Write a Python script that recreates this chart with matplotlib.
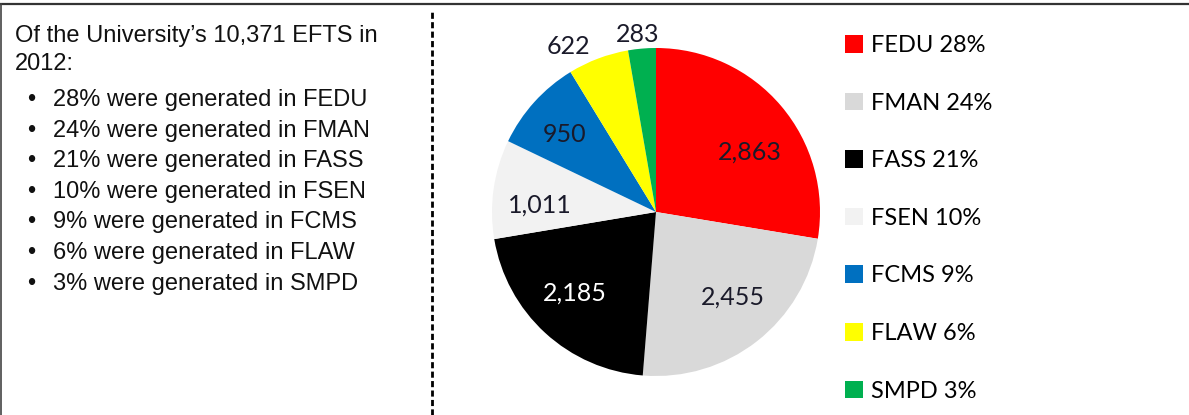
import matplotlib
matplotlib.use("Agg")
import matplotlib.pyplot as plt
from matplotlib.lines import Line2D
import numpy as np

W, H = 1189, 415
DPI = 100

faculties = ["FEDU", "FMAN", "FASS", "FSEN", "FCMS", "FLAW", "SMPD"]
efts = [2863, 2455, 2185, 1011, 950, 622, 283]
colors = ["#FF0000", "#D9D9D9", "#000000", "#F2F2F2", "#0070C0", "#FFFF00", "#00B050"]
label_colors = ["#1a1a2a", "#1a1a2a", "#FFFFFF", "#1a1a2a", "#1a1a2a", "#1a1a2a", "#1a1a2a"]
# label placement (Excel "best fit" look): radius fraction and angle nudge
label_dist = [0.68, 0.70, 0.70, 0.71, 0.73, 1.14, 1.09]
label_nudge = [-8, 4, -2.4, 4.5, 2, 7.4, 1]

intro = ["Of the University\u2019s 10,371 EFTS in", "2012:"]
bullets = ["28% were generated in FEDU", "24% were generated in FMAN",
           "21% were generated in FASS", "10% were generated in FSEN",
           "9% were generated in FCMS", "6% were generated in FLAW",
           "3% were generated in SMPD"]

fig = plt.figure(figsize=(W / DPI, H / DPI), dpi=DPI)

def px(x, y):
    return x / W, 1 - y / H

# frame: top rule, left rule, dashed divider
fig.add_artist(Line2D([0, 1], [1 - 4 / H, 1 - 4 / H], color="#333333", lw=1.6))
fig.add_artist(Line2D([1 / W, 1 / W], [0, 1 - 4 / H], color="#444444", lw=1.2))
fig.add_artist(Line2D([432 / W, 432 / W], [0, 1 - 10 / H], color="black", lw=2.0,
                      linestyle=(0, (2.2, 1.2))))

# left text block
txt = dict(family="Liberation Sans", fontsize=17, color="#111111", va="center")
for i, line in enumerate(intro):
    fig.text(*px(15, 36 + i * 28), line, **txt)
for i, line in enumerate(bullets):
    y = 100 + i * 30.6
    fig.text(*px(27, y), "\u2022", **txt)
    fig.text(*px(53, y), line, **txt)

# pie
cx, cy, r = 656, 212, 164
ax = fig.add_axes([(cx - r) / W, (H - cy - r) / H, 2 * r / W, 2 * r / H])
wedges, _ = ax.pie(efts, colors=colors, startangle=90, counterclock=False,
                   radius=1, wedgeprops=dict(linewidth=0))
ax.set_xlim(-1, 1)
ax.set_ylim(-1, 1)
ax.set_aspect("auto")
ax.axis("off")

for w, v, c, d, n in zip(wedges, efts, label_colors, label_dist, label_nudge):
    th = np.deg2rad((w.theta1 + w.theta2) / 2 + n)
    ax.text(d * np.cos(th), d * np.sin(th), f"{v:,}", ha="center", va="center",
            family="Lato", fontsize=18, color=c, clip_on=False)

total = sum(efts)
labels = [f"{f} {round(100 * v / total)}%" for f, v in zip(faculties, efts)]
fs = 17
fs_px = fs * DPI / 72
fig.legend(wedges, labels, loc="upper left", bbox_to_anchor=px(845, 35),
           frameon=False, prop=dict(family="Lato", size=fs),
           handlelength=18 / fs_px, handleheight=18 / fs_px,
           handletextpad=8 / fs_px, labelspacing=1.55, borderaxespad=0, borderpad=0)

fig.savefig("out.png", dpi=DPI)
